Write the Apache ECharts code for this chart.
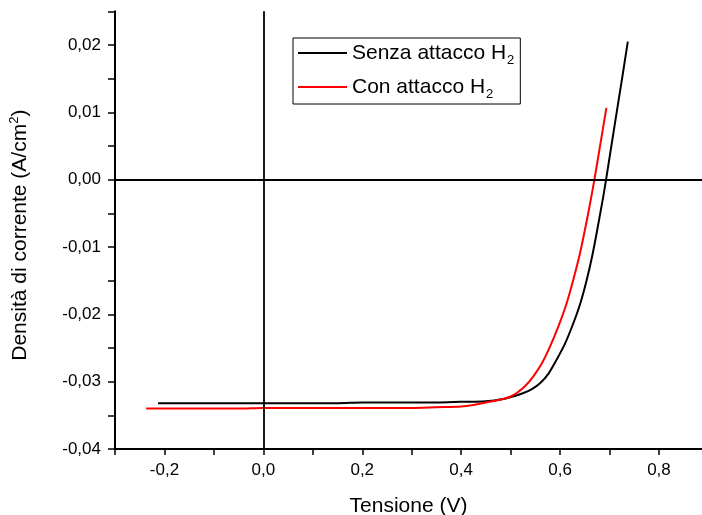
<!DOCTYPE html>
<html>
<head>
<meta charset="utf-8">
<script src="https://cdn.jsdelivr.net/npm/echarts@6/dist/echarts.min.js"></script>
<style>
html,body{margin:0;padding:0;background:#fff;}
#c{width:702px;height:515px;}
</style>
</head>
<body>
<div id="c"></div>
<script>
// Data
const seriesNames = ['Senza attacco H2', 'Con attacco H2'];
const senzaV = [-0.213, -0.15, -0.1, -0.05, 0, 0.05, 0.1, 0.15, 0.2, 0.25, 0.3, 0.35, 0.4, 0.45, 0.485, 0.51, 0.526, 0.543, 0.56, 0.577, 0.593, 0.61, 0.627, 0.641, 0.654, 0.665, 0.674, 0.6876, 0.693, 0.7035, 0.7147, 0.726, 0.737];
const senzaJ = [-0.0332, -0.0332, -0.0332, -0.0332, -0.0332, -0.0332, -0.0332, -0.0332, -0.0331, -0.0331, -0.0331, -0.0331, -0.0330, -0.0329, -0.03257, -0.0321, -0.03168, -0.0311, -0.0302, -0.02876, -0.02673, -0.02435, -0.02129, -0.01835, -0.01485, -0.01133, -0.00792, -0.0024, 0.0, 0.0049, 0.0101, 0.0153, 0.0205];
const conV = [-0.237, -0.15, -0.1, -0.05, 0, 0.05, 0.1, 0.15, 0.2, 0.25, 0.3, 0.35, 0.4, 0.425, 0.45, 0.485, 0.5, 0.5124, 0.53, 0.546, 0.563, 0.5798, 0.597, 0.6135, 0.627, 0.6404, 0.657, 0.6694, 0.681, 0.6937];
const conJ = [-0.0340, -0.0340, -0.0340, -0.0340, -0.0339, -0.0339, -0.0339, -0.0339, -0.0339, -0.0339, -0.0339, -0.0338, -0.0337, -0.03347, -0.0331, -0.03257, -0.0322, -0.03168, -0.0306, -0.02921, -0.0273, -0.02476, -0.0217, -0.01831, -0.0148, -0.0109, -0.00495, 0.0, 0.0051, 0.01065];
const xTickLabels = ['-0,2', '0,0', '0,2', '0,4', '0,6', '0,8'];
const yTickLabels = ['-0,04', '-0,03', '-0,02', '-0,01', '0,00', '0,01', '0,02'];

const FONT = '"Liberation Sans", Arial, sans-serif';
const zip = (a, b) => a.map((v, i) => [v, b[i]]);

const chart = echarts.init(document.getElementById('c'), null, {renderer: 'canvas'});
chart.setOption({
  animation: false,
  backgroundColor: '#fff',
  grid: {left: 115, right: 0, top: 11.3, bottom: 66, containLabel: false, outerBoundsMode: 'none'},
  legend: {
    show: true,
    orient: 'vertical',
    left: 293, top: 38,
    padding: [4, 6, 3, 5],
    borderColor: '#000', borderWidth: 1,
    itemWidth: 49, itemHeight: 2, itemGap: 9,
    icon: 'rect',
    data: seriesNames,
    formatter: name => '{a|' + name.replace('H2', 'H') + '}{s|2}',
    textStyle: {
      color: '#000', fontFamily: FONT, fontSize: 21,
      rich: {
        a: {fontSize: 21, fontFamily: FONT, color: '#000', lineHeight: 22},
        s: {fontSize: 13, fontFamily: FONT, color: '#000', lineHeight: 22, verticalAlign: 'top', padding: [12, 0, 0, 1]}
      }
    }
  },
  xAxis: {
    type: 'value', min: -0.3, max: 0.887, interval: 0.1,
    name: 'Tensione (V)', nameLocation: 'middle', nameGap: 47,
    nameTextStyle: {fontSize: 21, fontFamily: FONT, color: '#000'},
    splitLine: {show: false},
    axisLine: {show: true, onZero: false, lineStyle: {color: '#000', width: 2}},
    axisTick: {show: true, inside: false, length: 6, lineStyle: {color: '#000', width: 1.5}},
    axisLabel: {
      margin: 13, fontSize: 17, fontFamily: FONT, color: '#000',
      showMaxLabel: false,
      formatter: v => {
        const k = Math.round(v * 10);
        if (k % 2 !== 0) return '';
        const idx = k / 2 + 1;
        return xTickLabels[idx] !== undefined ? xTickLabels[idx] : '';
      }
    }
  },
  yAxis: {
    type: 'value', min: -0.04, max: 0.025, interval: 0.005,
    name: '{a|Densità di corrente (A/cm}{p|2}{a|)}', nameLocation: 'middle', nameGap: 82,
    nameTextStyle: {
      fontFamily: FONT, color: '#000', padding: [0, 10, 0, 0],
      rich: {
        a: {fontSize: 21, fontFamily: FONT, color: '#000'},
        p: {fontSize: 13, fontFamily: FONT, color: '#000', padding: [0, 0, 12, 0]}
      }
    },
    splitLine: {show: false},
    axisLine: {show: true, onZero: false, lineStyle: {color: '#000', width: 2}},
    axisTick: {show: true, inside: false, length: 7, lineStyle: {color: '#000', width: 1.5}},
    axisLabel: {
      margin: 14, fontSize: 17, fontFamily: FONT, color: '#000',
      formatter: v => {
        const k = Math.round(v * 1000);
        if (k % 10 !== 0) return '';
        const idx = k / 10 + 4;
        return yTickLabels[idx] !== undefined ? yTickLabels[idx] : '';
      }
    }
  },
  series: [
    {
      name: seriesNames[0], type: 'line', data: zip(senzaV, senzaJ),
      symbol: 'none', smooth: 0.3, lineStyle: {color: '#000', width: 2}, itemStyle: {color: '#000'},
      z: 3,
      markLine: {
        silent: true, symbol: ['none', 'none'], label: {show: false},
        lineStyle: {color: '#000', type: 'solid', width: 1.8},
        data: [{xAxis: 0}, {yAxis: 0}]
      }
    },
    {
      name: seriesNames[1], type: 'line', data: zip(conV, conJ),
      symbol: 'none', smooth: 0.3, lineStyle: {color: '#ff0000', width: 2}, itemStyle: {color: '#ff0000'},
      z: 4
    }
  ]
});
</script>
</body>
</html>
